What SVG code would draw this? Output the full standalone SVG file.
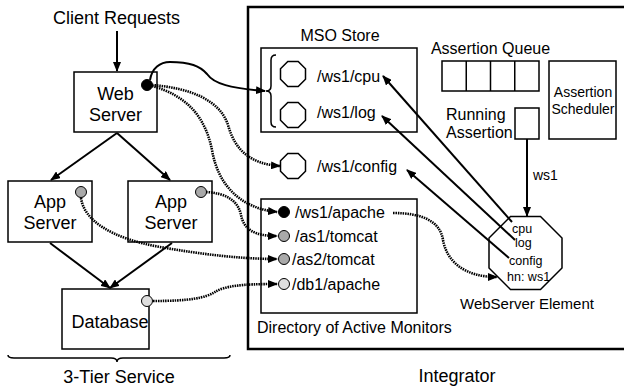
<svg xmlns="http://www.w3.org/2000/svg" width="624" height="389" viewBox="0 0 624 389">
<style>
text{font-family:"Liberation Sans",Arial,sans-serif;fill:#000}
.box{fill:#fff;stroke:#000;stroke-width:1.5}
.t18{font-size:18px}
.t16{font-size:16px}
.t15{font-size:15px}
.t14{font-size:14px}
.t12{font-size:12.5px}
.mid{text-anchor:middle}
.sol{fill:none;stroke:#000;stroke-width:2}
.thin{fill:none;stroke:#000;stroke-width:1.5}
.dot{fill:none;stroke:#000;stroke-width:2.6;stroke-dasharray:1.5 0.9}
.oct{fill:#fff;stroke:#000;stroke-width:1.5}
.dk{fill:#000;stroke:#000;stroke-width:1}
.gr{fill:#a9a9a9;stroke:#000;stroke-width:1}
.lt{fill:#dedede;stroke:#000;stroke-width:1}
</style>
<defs>
<marker id="ah" markerWidth="10" markerHeight="8" refX="9" refY="4" orient="auto" markerUnits="userSpaceOnUse">
<path d="M0,0 L10,4 L0,8 z" fill="#000"/>
</marker>
<path id="so" d="M-5.2,-12.5 h10.4 l7.3,7.3 v10.4 l-7.3,7.3 h-10.4 l-7.3,-7.3 v-10.4 z"/>
</defs>

<g id="integrator">
<path d="M630,7 H248 V349 H630" fill="none" stroke="#000" stroke-width="2.5"/>
<text class="t18 mid" x="457" y="382">Integrator</text>
</g>

<g id="client-requests">
<text class="t18 mid" x="116.5" y="24">Client Requests</text>
</g>

<g id="web-server">
<rect class="box" x="74" y="72" width="83" height="60"/>
<text class="t18 mid" x="115.5" y="100">Web</text>
<text class="t18 mid" x="115.5" y="121">Server</text>
<circle class="dk" cx="147" cy="85" r="5.5"/>
</g>

<g id="app-server-1">
<rect class="box" x="8" y="181" width="84" height="61"/>
<text class="t18 mid" x="50" y="208">App</text>
<text class="t18 mid" x="50" y="229">Server</text>
<circle class="gr" cx="81" cy="192" r="5.5"/>
</g>

<g id="app-server-2">
<rect class="box" x="128" y="181" width="84" height="61"/>
<text class="t18 mid" x="171" y="208">App</text>
<text class="t18 mid" x="171" y="229">Server</text>
<circle class="gr" cx="201" cy="192" r="5.5"/>
</g>

<g id="database">
<rect class="box" x="62" y="289" width="87" height="60"/>
<text class="t18 mid" x="110" y="328">Database</text>
<circle class="lt" cx="147" cy="301" r="5.5"/>
</g>

<g id="three-tier-service">
<path class="thin" d="M8,355 Q8,358 14,358 L111,358 Q117,358 117,362 Q117,358 123,358 L224,358 Q230,358 230,355"/>
<text class="t18 mid" x="119" y="383">3-Tier Service</text>
</g>

<g id="mso-store">
<text class="t16 mid" x="340" y="41">MSO Store</text>
<rect class="box" x="261" y="48" width="156" height="84"/>
<path class="thin" d="M276,55 Q271,55 271,60 L271,86 Q271,91 266,91 Q271,91 271,96 L271,122 Q271,127 276,127"/>
<use href="#so" class="oct" x="293" y="74"/>
<use href="#so" class="oct" x="293" y="115"/>
<text class="t16" x="317" y="82">/ws1/cpu</text>
<text class="t16" x="317" y="118">/ws1/log</text>
</g>

<g id="ws1-config">
<use href="#so" class="oct" x="293" y="166"/>
<text class="t16" x="317" y="172">/ws1/config</text>
</g>

<g id="assertion-queue">
<text class="t16 mid" x="490.5" y="54">Assertion Queue</text>
<rect class="box" x="442" y="61" width="97" height="30"/>
<path class="thin" d="M466.25,61 V91 M490.5,61 V91 M514.75,61 V91"/>
</g>

<g id="assertion-scheduler">
<rect class="box" x="549" y="61" width="67" height="78"/>
<text class="t14 mid" x="583" y="97">Assertion</text>
<text class="t14 mid" x="583" y="114">Scheduler</text>
</g>

<g id="running-assertion">
<rect class="box" x="515" y="108" width="24" height="31"/>
<text class="t16" x="446" y="120">Running</text>
<text class="t16" x="446" y="138">Assertion</text>
</g>

<g id="directory">
<rect class="box" x="261" y="199" width="156" height="114"/>
<circle class="dk" cx="284" cy="212" r="5.5"/>
<circle class="gr" cx="284" cy="236" r="5.5"/>
<circle class="gr" cx="284" cy="259" r="5.5"/>
<circle class="lt" cx="284" cy="284" r="5.5"/>
<text class="t16" x="295" y="218">/ws1/apache</text>
<text class="t16" x="295" y="242">/as1/tomcat</text>
<text class="t16" x="292" y="265">/as2/tomcat</text>
<text class="t16" x="292" y="290">/db1/apache</text>
<text class="t16" x="257" y="333">Directory of Active Monitors</text>
</g>

<g id="webserver-element">
<path class="oct" d="M510.5,216.5 H540.5 L562,238 V268 L540.5,289.5 H510.5 L489,268 V238 Z"/>
<text class="t12" x="512" y="233">cpu</text>
<text class="t12" x="515" y="247">log</text>
<text class="t12" x="509" y="265">config</text>
<text class="t12" x="507" y="281">hn: ws1</text>
<text class="t15 mid" x="527" y="309">WebServer Element</text>
</g>

<g id="connectors">
<path class="sol" d="M117,31 V71" marker-end="url(#ah)"/>
<path class="sol" d="M117,133 L51,180" marker-end="url(#ah)"/>
<path class="sol" d="M117,133 L170,180" marker-end="url(#ah)"/>
<path class="sol" d="M50,243 L110,288" marker-end="url(#ah)"/>
<path class="sol" d="M172,243 L110,288" marker-end="url(#ah)"/>
<path class="sol" d="M150,80 C152,68 160,62 170,62 C190,62 200,66 207,74 C214,84 230,88 265,91" marker-end="url(#ah)"/>
<path class="sol" d="M512,222 L383,76" marker-end="url(#ah)"/>
<path class="sol" d="M515,240 L382,116" marker-end="url(#ah)"/>
<path class="sol" d="M509,258 L407,170" marker-end="url(#ah)"/>
<path class="sol" d="M527,139 V216" marker-end="url(#ah)"/>
<text class="t14" x="533" y="180">ws1</text>
<path class="dot" d="M152,85 C190,88 220,100 228,125 C235,150 250,164 280,166" marker-end="url(#ah)"/>
<path class="dot" d="M152,86 C185,95 205,115 212,150 C218,185 240,208 277,212" marker-end="url(#ah)"/>
<path class="dot" d="M206,192 C225,193 238,200 241,215 C244,230 255,236 277,236" marker-end="url(#ah)"/>
<path class="dot" d="M81,198 C84,220 110,238 160,247 C200,254 240,259 277,259" marker-end="url(#ah)"/>
<path class="dot" d="M153,301 C190,301 205,298 215,292 C225,286 240,284 277,284" marker-end="url(#ah)"/>
<path class="dot" d="M393,213 C420,213 440,220 443,240 C447,262 465,277 497,277" marker-end="url(#ah)"/>
</g>
</svg>
